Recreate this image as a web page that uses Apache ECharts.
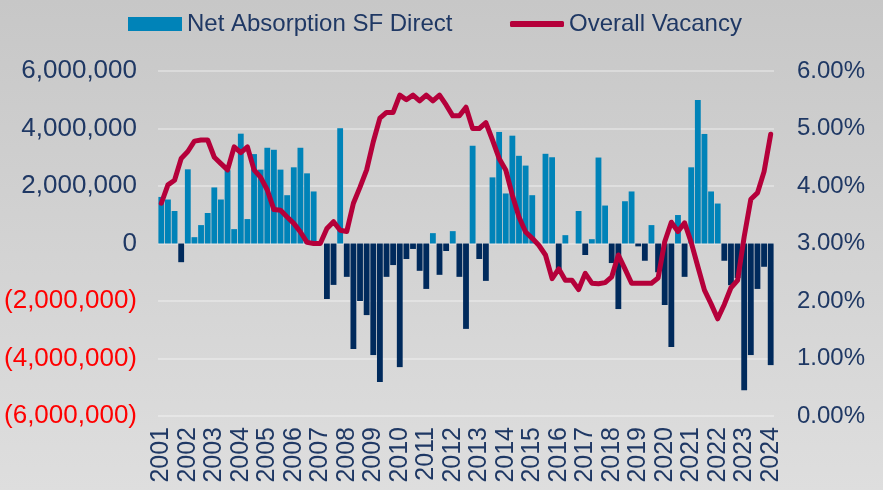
<!DOCTYPE html>
<html>
<head>
<meta charset="utf-8">
<script src="https://cdn.jsdelivr.net/npm/echarts@6/dist/echarts.min.js"></script>
<style>
  html, body { margin: 0; padding: 0; }
  #chart { width: 883px; height: 490px; }
</style>
</head>
<body>
<div id="chart"></div>
<script>
const years = ['2001', '2002', '2003', '2004', '2005', '2006', '2007', '2008', '2009', '2010', '2011', '2012',
  '2013', '2014', '2015', '2016', '2017', '2018', '2019', '2020', '2021', '2022', '2023', '2024']
// quarterly categories, 2001 Q1 .. 2024 Q1
const quarters = years.flatMap(y => ['Q1', 'Q2', 'Q3', 'Q4'].map(q => y + ' ' + q)).slice(0, 93)

// Net Absorption SF Direct (SF)
const absorption = [
  1620000, 1530000, 1130000, -650000, 2580000, 220000, 640000, 1060000,
  1950000, 1530000, 2550000, 500000, 3820000, 850000, 3110000, 2570000,
  3330000, 3260000, 2570000, 1680000, 2650000, 3330000, 2440000, 1810000,
  0, -1930000, -1440000, 4010000, -1160000, -3670000, -2000000, -2490000,
  -3880000, -4820000, -1160000, -750000, -4300000, -540000, -190000, -950000,
  -1580000, 360000, -1090000, -260000, 430000, -1160000, -2970000, 3400000,
  -540000, -1300000, 2300000, 3880000, 1740000, 3750000, 3050000, 2710000,
  1680000, 0, 3120000, 3000000, -900000, 290000, 0, 1130000,
  -400000, 150000, 2990000, 1320000, -680000, -2280000, 1470000, 1810000,
  -100000, -600000, 640000, -1000000, -2140000, -3600000, 990000, -1160000,
  2650000, 4990000, 3810000, 1810000, 1390000, -600000, -1450000, -1200000,
  -5100000, -3880000, -1580000, -810000, -4230000
]

// Overall Vacancy (%)
const vacancy = [
  3.70, 4.02, 4.10, 4.48, 4.60, 4.78, 4.80, 4.80,
  4.50, 4.39, 4.28, 4.68, 4.58, 4.68, 4.28, 4.15,
  3.93, 3.59, 3.58, 3.46, 3.35, 3.20, 3.02, 3.00,
  3.00, 3.26, 3.38, 3.23, 3.21, 3.70, 3.98, 4.28,
  4.77, 5.18, 5.28, 5.28, 5.58, 5.50, 5.58, 5.48,
  5.58, 5.48, 5.58, 5.41, 5.22, 5.22, 5.37, 5.00,
  5.00, 5.10, 4.80, 4.48, 4.28, 3.84, 3.46, 3.20,
  3.09, 2.97, 2.80, 2.39, 2.56, 2.36, 2.36, 2.20,
  2.48, 2.31, 2.30, 2.32, 2.42, 2.80, 2.56, 2.31,
  2.31, 2.31, 2.31, 2.40, 3.03, 3.37, 3.21, 3.36,
  3.02, 2.60, 2.19, 1.95, 1.69, 1.94, 2.23, 2.36,
  3.12, 3.77, 3.88, 4.25, 4.90
]

const navy = '#1f3864'
const posColor = '#0083b8'
const negColor = '#002a5c'
const lineColor = '#b5003a'
const font = '"Liberation Sans", Arial, sans-serif'

const chart = echarts.init(document.getElementById('chart'))

chart.setOption({
  animation: false,
  backgroundColor: {
    type: 'linear', x: 0, y: 0, x2: 0, y2: 1,
    colorStops: [{ offset: 0, color: '#c7c7c7' }, { offset: 1, color: '#dedede' }]
  },
  textStyle: { fontFamily: font },
  legend: [
    { left: 123, top: 7, itemWidth: 54, itemHeight: 14, icon: 'rect',
      textStyle: { color: navy, fontSize: 24, fontFamily: font },
      data: [{ name: 'Net Absorption SF Direct', itemStyle: { color: posColor } }] },
    { left: 505, top: 7, itemWidth: 54, itemHeight: 6, icon: 'roundRect',
      textStyle: { color: navy, fontSize: 24, fontFamily: font },
      data: [{ name: 'Overall Vacancy', itemStyle: { color: lineColor } }] }
  ],
  grid: { left: 158, right: 109, top: 71, bottom: 74 },
  xAxis: {
    type: 'category', data: quarters,
    axisLine: { show: false }, axisTick: { show: false },
    axisLabel: { interval: 3, rotate: 90, margin: 11, color: navy, fontSize: 25, fontFamily: font,
      formatter: v => v.slice(0, 4) }
  },
  yAxis: [
    { type: 'value', min: -6000000, max: 6000000, interval: 2000000,
      axisLine: { show: false }, axisTick: { show: false },
      splitLine: { lineStyle: { color: 'rgba(255,255,255,0.32)', width: 2 } },
      axisLabel: { margin: 21, fontSize: 26, fontFamily: font,
        color: v => Number(v) < 0 ? '#ff0000' : navy,
        formatter: v => v === 0 ? '0' : v < 0 ? '(' + Math.abs(v).toLocaleString('en-US') + ')' : v.toLocaleString('en-US') } },
    { type: 'value', min: 0, max: 6, interval: 1,
      axisLine: { show: false }, axisTick: { show: false }, splitLine: { show: false },
      axisLabel: { margin: 23, fontSize: 24, fontFamily: font, color: navy,
        formatter: v => v.toFixed(2) + '%' } }
  ],
  series: [
    { name: 'Net Absorption SF Direct', type: 'bar', data: absorption, barCategoryGap: '12%',
      itemStyle: { color: p => p.value >= 0 ? posColor : negColor } },
    { name: 'Overall Vacancy', type: 'line', yAxisIndex: 1, data: vacancy, symbol: 'none', z: 3,
      color: lineColor, lineStyle: { color: lineColor, width: 5, join: 'round', cap: 'round' } }
  ]
})
</script>
</body>
</html>
